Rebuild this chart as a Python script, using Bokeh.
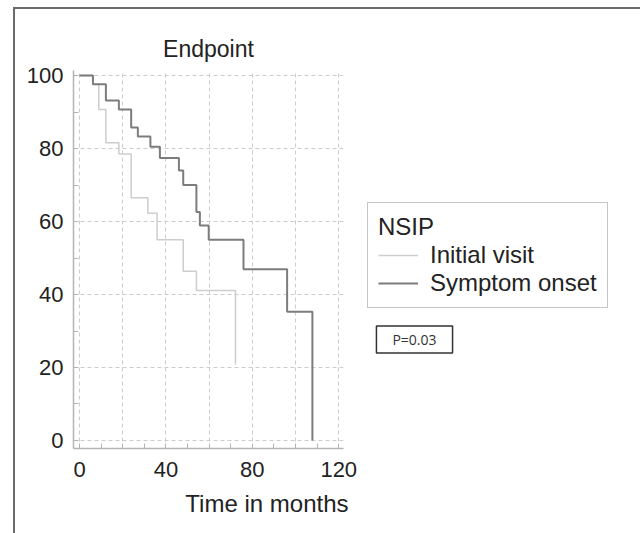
from bokeh.plotting import figure
from bokeh.layouts import row
from bokeh.models import FixedTicker, Range1d, Legend, LegendItem, Label, Title
from bokeh.embed import file_html
from bokeh.resources import INLINE

# Kaplan-Meier curves (time in months, percent event-free)
initial_t = [0, 6.2, 8.9, 12.2, 18.2, 23.9, 31.6, 35.9, 48.0, 54.1, 72.2]
initial_s = [100, 97.6, 90.7, 81.6, 78.5, 66.5, 62.3, 55.0, 46.4, 41.1, 20.8]

onset_t = [0, 6.2, 12.2, 18.2, 23.9, 27.0, 32.8, 37.2, 46.0, 48.0, 54.1, 55.7, 59.8, 75.9, 96.1, 107.8]
onset_s = [100, 97.6, 93.2, 90.7, 85.8, 83.3, 80.5, 77.4, 74.0, 70.0, 62.6, 58.9, 55.0, 46.9, 35.3, 0]

x_ticks = [0, 40, 80, 120]
x_minor = [10, 20, 30, 50, 60, 70, 90, 100, 110]
x_grid = [0, 20, 40, 60, 80, 100, 120]
y_ticks = [0, 20, 40, 60, 80, 100]
y_minor = [10, 30, 50, 70, 90]

FONT = "Liberation Sans"
H = 524
LIGHT = "#cdcdcd"
DARK = "#7c7c7c"

p = figure(width=345, height=H,
           x_range=Range1d(-2.8, 122.2), y_range=Range1d(-2.2, 101.4),
           output_backend="svg", toolbar_location=None,
           min_border_left=58, min_border_right=17,
           min_border_top=61, min_border_bottom=85,
           title="Endpoint")
p.outline_line_color = None

p.title.align = "center"
p.title.text_font = FONT
p.title.text_font_size = "23px"
p.title.text_font_style = "normal"
p.title.text_color = "#222222"
p.title.standoff = 18

for ax in (p.xaxis[0], p.yaxis[0]):
    ax.axis_line_color = "#b4b4b4"
    ax.axis_line_width = 1.5
    ax.major_tick_line_color = "#b4b4b4"
    ax.minor_tick_line_color = "#b4b4b4"
    ax.major_tick_in = 5
    ax.major_tick_out = 0
    ax.minor_tick_in = 5
    ax.minor_tick_out = 0
    ax.major_label_text_font = FONT
    ax.major_label_text_font_size = "22px"
    ax.major_label_text_color = "#222222"

xa = p.xaxis[0]
xa.ticker = FixedTicker(ticks=x_ticks, minor_ticks=x_minor)
xa.major_label_standoff = 13

p.yaxis[0].ticker = FixedTicker(ticks=y_ticks, minor_ticks=y_minor)
p.yaxis[0].major_label_standoff = 10

# x-axis caption, right-aligned under the axis as in the original
xlab = Title(text="Time in months", align="right", offset=-5,
             text_font=FONT, text_font_size="24px", text_font_style="normal",
             text_color="#222222", standoff=16)
p.add_layout(xlab, "below")

p.xgrid[0].ticker = FixedTicker(ticks=x_grid)
p.ygrid[0].ticker = FixedTicker(ticks=y_ticks)
for g in (p.xgrid[0], p.ygrid[0]):
    g.grid_line_color = "#cccccc"
    g.grid_line_dash = "4 3"
    g.grid_line_width = 1

p.step(initial_t, initial_s, mode="after", line_color=LIGHT, line_width=1.5)
p.step(onset_t, onset_s, mode="after", line_color=DARK, line_width=2)

# side panel holding the legend and the p-value box; its ranges keep
# the proxy curves out of view so that only their legend glyphs show
s = figure(width=280, height=H, x_range=Range1d(-20, -10), y_range=Range1d(-20, -10),
           output_backend="svg", toolbar_location=None,
           x_axis_location=None, y_axis_location=None,
           min_border=0)
s.outline_line_color = None
s.xgrid.visible = False
s.ygrid.visible = False
g_init = s.step(initial_t, initial_s, mode="after", line_color=LIGHT, line_width=1.5)
g_onset = s.step(onset_t, onset_s, mode="after", line_color=DARK, line_width=2)

legend = Legend(items=[LegendItem(label="Initial visit", renderers=[g_init]),
                       LegendItem(label="Symptom onset", renderers=[g_onset])],
                location=(7, 140), title="NSIP")
legend.title_text_font = FONT
legend.title_text_font_size = "24px"
legend.title_text_font_style = "normal"
legend.title_text_color = "#222222"
legend.title_standoff = 0
legend.label_text_font = FONT
legend.label_text_font_size = "24px"
legend.label_text_color = "#222222"
legend.glyph_width = 40
legend.label_standoff = 12
legend.padding = 10
legend.spacing = 0
legend.border_line_color = "#8a8a8a"
legend.border_line_width = 1.5
legend.margin = 0
s.add_layout(legend)

s.add_layout(Label(x=54, y=109, x_units="screen", y_units="screen",
                   text="P=0.03", text_align="center", text_baseline="middle",
                   text_font="Open Sans", text_font_size="14px", text_color="#333333",
                   border_line_color="#333333", border_line_width=1.5,
                   background_fill_color="white", padding=(16, 4)))

layout = row(p, s, styles={"margin-left": "13px", "margin-top": "7px",
                           "border-top": "2px solid #6a6a6a",
                           "border-left": "2px solid #6a6a6a"})
open("out.html", "w").write(file_html(layout, INLINE))
